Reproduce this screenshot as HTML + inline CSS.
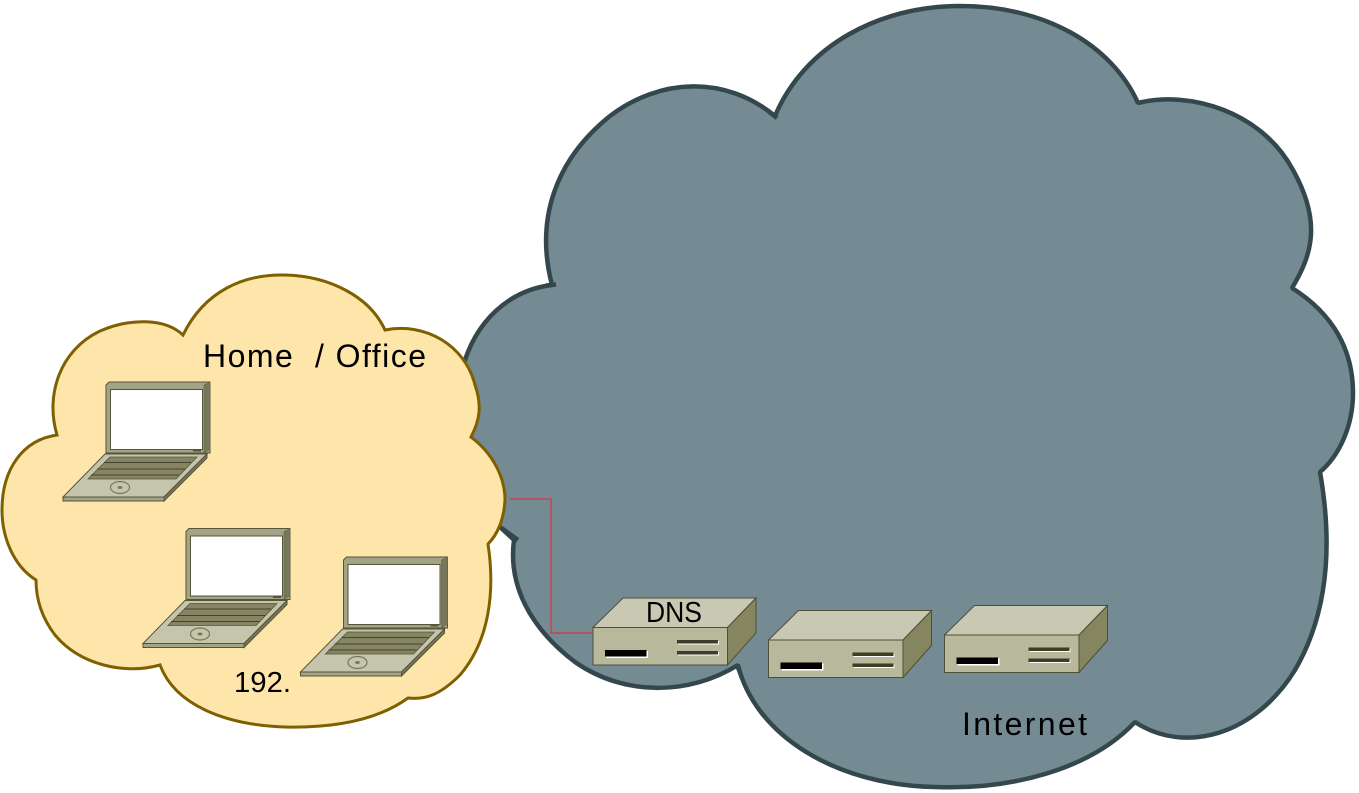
<!DOCTYPE html>
<html>
<head>
<meta charset="utf-8">
<style>
html,body{margin:0;padding:0;background:#fff;width:1359px;height:793px;overflow:hidden}
svg{display:block}
text{font-family:"Liberation Sans",sans-serif;fill:#000}
</style>
</head>
<body>
<svg width="1359" height="793" viewBox="0 0 1359 793" xmlns="http://www.w3.org/2000/svg">
<defs>
<g id="laptop">
  <polygon points="106,453 106,385 109,382 210,382 210,453" fill="#a3a385" stroke="#55553a" stroke-width="1"/>
  <polygon points="204,385 210,382 210,449 204,453" fill="#77775a" stroke="#66664a" stroke-width=".6"/>
  <rect x="110.500" y="389.500" width="92" height="60" fill="#fff" stroke="#55553a" stroke-width="1"/>
  <rect x="193" y="449.500" width="8" height="2" fill="#55553a"/>
  <polygon points="105,454 207,454 164,497 63,497" fill="#c5c5ad" stroke="#55553a" stroke-width="1"/>
  <polygon points="63,497 164,497 164,501 63,501" fill="#a3a385" stroke="#55553a" stroke-width="1"/>
  <polygon points="164,497 207,454 207,458 164,501" fill="#77775a" stroke="#55553a" stroke-width="1"/>
  <polygon points="110,457 197,457 176,479 88,479" fill="#858563" stroke="#55553a" stroke-width=".8"/>
  <path d="M104,462.500H191M97,469H185M91,475H179" stroke="#44442e" stroke-width=".9" fill="none"/>
  <ellipse cx="120" cy="487.500" rx="9.500" ry="6" fill="none" stroke="#77775a" stroke-width="1.200"/>
  <ellipse cx="120" cy="487.500" rx="2.500" ry="1.500" fill="#77775a"/>
</g>
<g id="router">
  <polygon points="593,627.500 623,598 756,598 727.500,627.500" fill="#c9c9b3" stroke="#4f4f38" stroke-width="1"/>
  <polygon points="727.500,627.500 756,598 756,633 727.500,665" fill="#85855f" stroke="#4f4f38" stroke-width="1"/>
  <rect x="593" y="627.500" width="134.500" height="37.500" fill="#b8b89c" stroke="#4f4f38" stroke-width="1"/>
  <rect x="606" y="651" width="42" height="7" fill="#fff"/>
  <rect x="605" y="650" width="41.500" height="6.500" fill="#000"/>
  <rect x="678" y="641" width="41" height="3.500" fill="#fff"/>
  <rect x="677" y="640" width="41" height="3.500" fill="#3d3d28"/>
  <rect x="678" y="652" width="41" height="3.500" fill="#fff"/>
  <rect x="677" y="651" width="41" height="3.500" fill="#3d3d28"/>
</g>
</defs>

<!-- Internet cloud -->
<path d="M775,116 C805,45 880,6 960,6 C1045,6 1112,45 1138,103 C1190,90 1262,112 1293,170 C1322,222 1312,255 1292,288 C1335,315 1353,352 1353,393 C1353,425 1340,455 1320,472 C1332,540 1330,610 1295,670 C1255,735 1185,755 1135,722 C1090,770 1010,790 935,787 C835,785 755,735 738,665 C690,695 625,697 575,662 C530,628 508,585 514,540 L500,527 L480,490 L455,400 L462,370 C475,320 510,290 552,285 C535,220 555,160 610,116 C660,78 725,75 775,116 Z" fill="#758b93" stroke="#33474c" stroke-width="4.500" stroke-linejoin="bevel"/>
<path d="M500,527L518,540M546,285.500L556,284.500M768,111L777,118M737,665L742,678" fill="none" stroke="#33474c" stroke-width="4.500"/>

<!-- Home cloud -->
<path d="M183,335 C205,290 245,274 285,275 C330,276 370,297 385,330 C425,322 465,345 475,385 C482,405 480,420 471,437 C495,455 505,480 505,500 C504,520 497,535 488,544 C495,590 490,640 460,675 C440,695 425,700 408,698 C375,722 330,728 285,727 C225,725 175,705 160,665 C125,675 80,665 55,635 C42,618 36,600 36,580 C12,565 2,535 2,510 C2,470 22,440 57,435 C45,395 60,350 100,331 C130,318 165,318 183,335 Z" fill="#fee5a9" stroke="#7f6000" stroke-width="3"/>

<!-- link -->
<path d="M510,499H551V633H593" fill="none" stroke="#c04a5c" stroke-width="1.700"/>

<use href="#laptop"/>
<use href="#laptop" x="80" y="146.500"/>
<use href="#laptop" x="237.500" y="175"/>

<use href="#router"/>
<use href="#router" x="175.500" y="12.500"/>
<use href="#router" x="351.500" y="7.500"/>

<text x="203" y="367" font-size="32" textLength="223" lengthAdjust="spacing" xml:space="preserve">Home  / Office</text>
<text x="234" y="692" font-size="29" textLength="57" lengthAdjust="spacingAndGlyphs">192.</text>
<text x="646" y="622" font-size="29" textLength="56" lengthAdjust="spacingAndGlyphs">DNS</text>
<text x="962" y="735" font-size="32" textLength="125" lengthAdjust="spacing">Internet</text>
</svg>
</body>
</html>
